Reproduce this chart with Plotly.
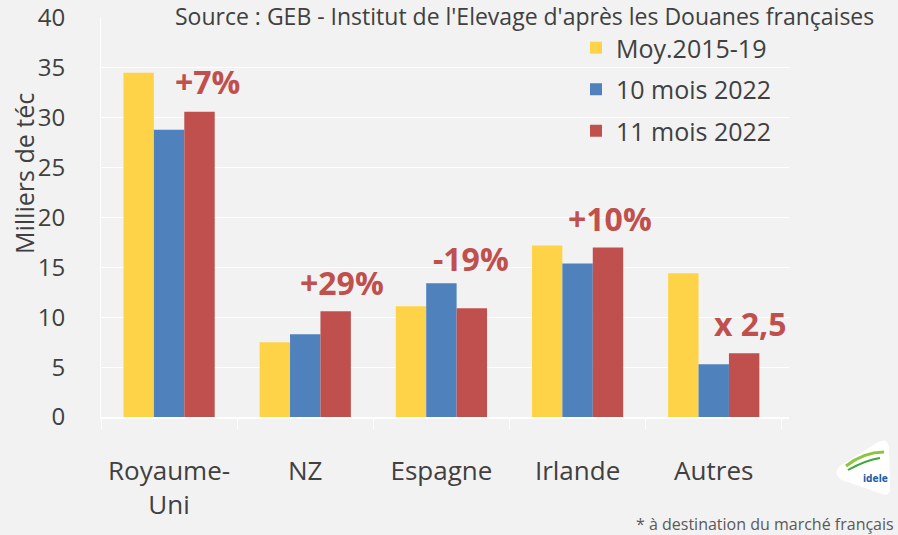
import plotly.graph_objects as go

categories = ["Royaume-<br>Uni", "NZ", "Espagne", "Irlande", "Autres"]
moy_2015_19 = [34.5, 7.5, 11.1, 17.2, 14.4]
mois10_2022 = [28.8, 8.3, 13.4, 15.4, 5.3]
mois11_2022 = [30.6, 10.6, 10.9, 17.0, 6.4]
series_names = ["Moy.2015-19", "10 mois 2022", "11 mois 2022"]
colors = ["#ffd347", "#4f81bd", "#c0504d"]
labels = ["+7%", "+29%", "-19%", "+10%", "x 2,5"]
label_y = [33.6, 13.5, 15.9, 19.9, 9.4]
label_x_offset = [0.28, 0.27, 0.22, 0.24, 0.27]

FONT = "Open Sans"
TXT = "#404040"
fig = go.Figure()
for i, (name, vals, col) in enumerate(zip(series_names, [moy_2015_19, mois10_2022, mois11_2022], colors)):
    fig.add_trace(go.Bar(x=categories, y=vals, name=name, marker_color=col,
                         marker_line_width=0, legendgroup="g%d" % i))

for i, (t, yv) in enumerate(zip(labels, label_y)):
    fig.add_annotation(x=i + label_x_offset[i], y=yv, xref="x", yref="y", text="<b>%s</b>" % t,
                       showarrow=False, font=dict(family=FONT, size=32, color="#c0504d"))

# plot area in pixels: x 101..789, y 18..417
TOP = 18
PW, PH = 688, 417 - TOP
def px(x):
    return (x - 101) / PW
def py(y):
    return (417 - y) / PH

fig.add_annotation(x=px(876), y=py(-2), xref="paper", yref="paper", xanchor="right", yanchor="top",
                   text="Source : GEB - Institut de l'Elevage d'après les Douanes françaises",
                   showarrow=False, font=dict(family=FONT, size=23, color=TXT))
fig.add_annotation(x=px(896), y=py(524), xref="paper", yref="paper", xanchor="right", yanchor="middle",
                   text="* à destination du marché français",
                   showarrow=False, font=dict(family=FONT, size=16, color="#595959"))
fig.add_annotation(x=px(24), y=py(174), xref="paper", yref="paper", xanchor="center", yanchor="middle",
                   textangle=-90, text="Milliers de téc",
                   showarrow=False, font=dict(family=FONT, size=25, color=TXT))

# logo (white rounded triangle, green swoosh, text)
fig.add_shape(type="path", xref="paper", yref="paper",
              path="M %f %f Q %f %f %f %f L %f %f Q %f %f %f %f L %f %f Q %f %f %f %f Z" % (
                  px(840), py(466), px(832), py(474), px(842), py(480),
                  px(882), py(494), px(891), py(497), px(890), py(486),
                  px(889), py(448), px(888), py(437), px(878), py(442)),
              fillcolor="#ffffff", line=dict(width=0), layer="above")
fig.add_shape(type="path", xref="paper", yref="paper",
              path="M %f %f Q %f %f %f %f" % (px(846), py(466), px(864), py(452), px(884), py(452)),
              line=dict(color="#8cc63f", width=3), layer="above")
fig.add_shape(type="path", xref="paper", yref="paper",
              path="M %f %f Q %f %f %f %f" % (px(848), py(470), px(866), py(460), px(880), py(458)),
              line=dict(color="#3aa935", width=2), layer="above")
fig.add_annotation(x=px(876), y=py(478), xref="paper", yref="paper", xanchor="center", yanchor="middle",
                   text="<b>idele</b>", showarrow=False,
                   font=dict(family="DejaVu Sans Condensed", size=10, color="#1f5fa8"))

fig.update_layout(
    width=898, height=535,
    margin=dict(l=101, r=109, t=TOP, b=118),
    paper_bgcolor="#f2f2f2", plot_bgcolor="#f2f2f2",
    barmode="group", bargap=0.33, bargroupgap=0,
    font=dict(family=FONT, color=TXT),
    legend=dict(x=px(576), y=py(25), xanchor="left", yanchor="top",
                font=dict(family=FONT, size=25, color=TXT),
                bgcolor="rgba(0,0,0,0)", tracegroupgap=6, itemwidth=30),
    showlegend=True,
)
fig.update_xaxes(showgrid=False, showline=True, linecolor="#ffffff", linewidth=1.5,
                 ticks="outside", tickson="boundaries", ticklen=10, tickcolor="#ffffff",
                 tickfont=dict(family=FONT, size=26, color=TXT),
                 ticklabelstandoff=30, automargin=False)
fig.update_yaxes(range=[0, 40], dtick=5, showgrid=True, gridcolor="#ffffff", gridwidth=1,
                 zeroline=False, showline=True, linecolor="#ffffff",
                 tickfont=dict(family=FONT, size=24, color=TXT), ticklabelstandoff=30,
                 ticklabeloverflow="allow", automargin=False)

fig.write_html("out.html", config={"displayModeBar": False},
               post_script="document.body.style.margin='0';")
